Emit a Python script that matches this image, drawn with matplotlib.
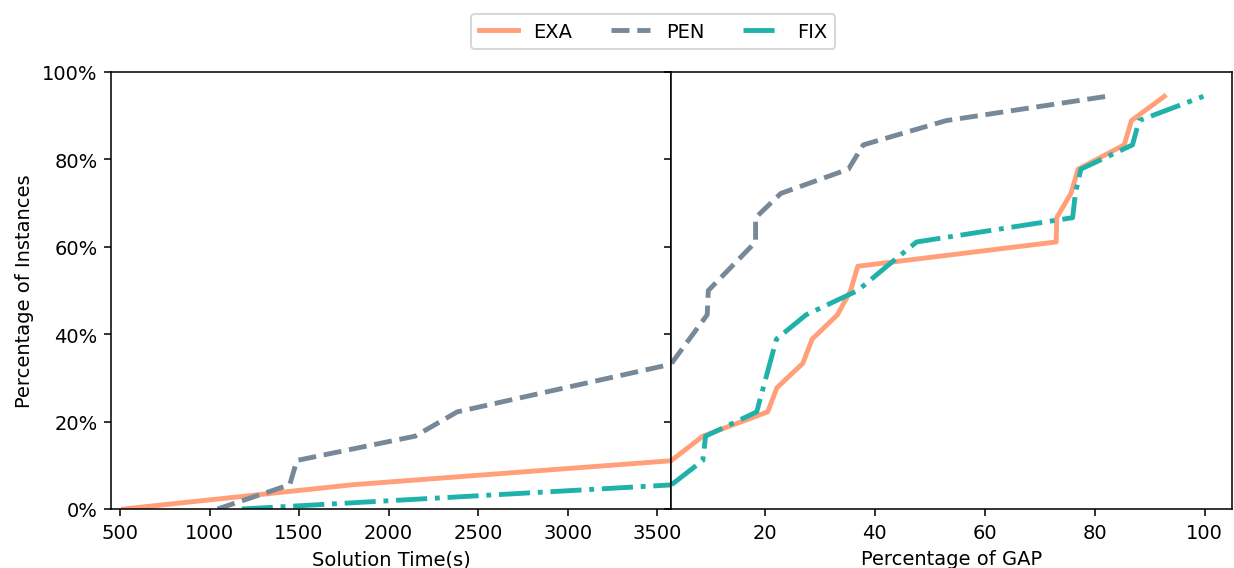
import matplotlib
matplotlib.use('Agg')
import matplotlib.pyplot as plt
from matplotlib.ticker import PercentFormatter

N_INST = 18

# left panel: solution time (s) -> share of instances solved
exa_time = [520, 1800, 3600]
exa_time_cnt = [0, 1, 2]
pen_time = [1045, 1448, 1488, 2148, 2383, 2990, 3600]
pen_time_cnt = [0, 1, 2, 3, 4, 5, 6]
fix_time = [1180, 3600]
fix_time_cnt = [0, 1]

# right panel: gap (%) -> share of instances
exa_gap = [3, 8.7, 20.5, 22.2, 26.9, 28.6, 33.2, 35.6, 36.9, 73.0, 73.1, 75.7, 77.0, 85.4, 86.7, 92.7]
exa_gap_cnt = [2, 3, 4, 5, 6, 7, 8, 9, 10, 11, 12, 13, 14, 15, 16, 17]
pen_gap = [3, 9.5, 9.7, 14.0, 18.3, 18.3, 22.9, 35.2, 37.9, 53.0, 82.2]
pen_gap_cnt = [6, 8, 9, 10, 11, 12, 13, 14, 15, 16, 17]
fix_gap = [3, 8.7, 9.2, 18.5, 19.7, 20.9, 22.1, 27.5, 36.9, 42.2, 47.6, 76.0, 76.5, 77.5, 86.9, 88.1, 99.8]
fix_gap_cnt = [1, 2, 3, 4, 5, 6, 7, 8, 9, 10, 11, 12, 13, 14, 15, 16, 17]

labels = ['EXA', 'PEN', 'FIX']
colors = ['#FFA07A', '#778899', '#20B2AA']
styles = ['-', '--', '-.']
LW = 2.5

fig, axes = plt.subplots(nrows=1, ncols=2, sharey=True, figsize=(8.821, 4.064), dpi=140)
ax1, ax2 = axes

times = [(exa_time, exa_time_cnt), (pen_time, pen_time_cnt), (fix_time, fix_time_cnt)]
gaps = [(exa_gap, exa_gap_cnt), (pen_gap, pen_gap_cnt), (fix_gap, fix_gap_cnt)]

for (x, c), lab, col, ls in zip(times, labels, colors, styles):
    ax1.plot(x, [v / N_INST for v in c], color=col, linestyle=ls, linewidth=LW, label=lab)
for (x, c), lab, col, ls in zip(gaps, labels, colors, styles):
    ax2.plot(x, [v / N_INST for v in c], color=col, linestyle=ls, linewidth=LW, label=lab)

ax1.set(xlim=[450, 3580], ylim=[0, 1], xlabel='Solution Time(s)', ylabel='Percentage of Instances')
ax1.set_xticks([500, 1000, 1500, 2000, 2500, 3000, 3500])
ax1.set_yticks([0, 0.2, 0.4, 0.6, 0.8, 1.0])
ax1.yaxis.set_major_formatter(PercentFormatter(1.0, decimals=0))
ax2.set(xlim=[3, 105], xlabel='Percentage of GAP')
ax2.set_xticks([20, 40, 60, 80, 100])

plt.subplots_adjust(left=0.0899, right=0.9976, top=0.8717, bottom=0.1037, wspace=0)

handles, labs = ax1.get_legend_handles_labels()
fig.legend(handles, labs, ncol=3, loc='upper center', bbox_to_anchor=(0.529, 0.99))

plt.savefig('out.png', dpi=140)
